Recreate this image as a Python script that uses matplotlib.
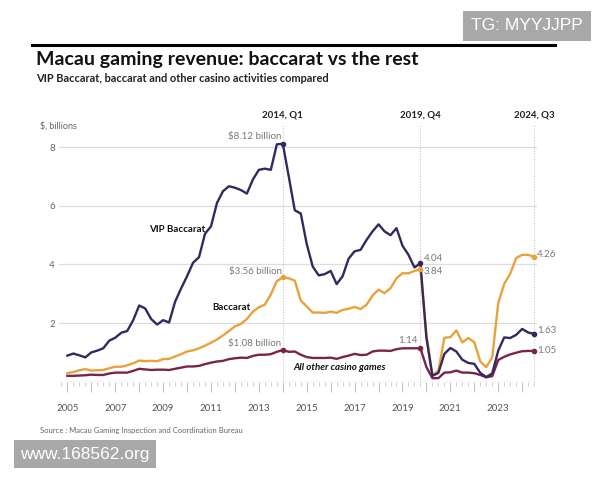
import numpy as np
import matplotlib
matplotlib.use('Agg')
import matplotlib.pyplot as plt
from matplotlib.lines import Line2D
from matplotlib.ticker import MultipleLocator, FixedLocator

plt.rcParams['font.family'] = ['Lato', 'DejaVu Sans']

# quarterly values, 2005 Q1 .. 2024 Q3, $ billions
vip = [0.89, 0.96, 0.90, 0.83, 1.00, 1.06, 1.14, 1.40, 1.50, 1.67,
       1.73, 2.10, 2.60, 2.50, 2.14, 1.95, 2.10, 2.02, 2.73, 3.18,
       3.60, 4.06, 4.25, 5.05, 5.30, 6.10, 6.50, 6.67, 6.62, 6.54,
       6.42, 6.90, 7.23, 7.27, 7.23, 8.10, 8.12, 7.00, 5.85, 5.74,
       4.70, 3.93, 3.63, 3.67, 3.78, 3.33, 3.60, 4.20, 4.45, 4.50,
       4.84, 5.13, 5.37, 5.13, 5.00, 5.24, 4.64, 4.33, 3.90, 4.04,
       1.50, 0.20, 0.30, 0.95, 1.15, 1.03, 0.75, 0.64, 0.61, 0.30,
       0.16, 0.28, 1.06, 1.51, 1.49, 1.60, 1.80, 1.68, 1.63]
baccarat = [0.29, 0.33, 0.39, 0.43, 0.38, 0.39, 0.40, 0.46, 0.51, 0.51,
            0.56, 0.63, 0.72, 0.70, 0.71, 0.70, 0.77, 0.78, 0.86, 0.94,
            1.03, 1.07, 1.14, 1.23, 1.33, 1.44, 1.58, 1.73, 1.89, 1.97,
            2.14, 2.39, 2.54, 2.63, 2.98, 3.43, 3.56, 3.53, 3.45, 2.77,
            2.57, 2.36, 2.36, 2.35, 2.39, 2.35, 2.45, 2.49, 2.55, 2.48,
            2.63, 2.94, 3.14, 3.02, 3.19, 3.53, 3.70, 3.70, 3.78, 3.84,
            1.60, 0.22, 0.38, 1.50, 1.52, 1.75, 1.34, 1.49, 1.35, 0.69,
            0.50, 0.83, 2.68, 3.34, 3.68, 4.22, 4.33, 4.33, 4.26]
others = [0.20, 0.20, 0.21, 0.22, 0.24, 0.23, 0.23, 0.28, 0.31, 0.31,
          0.31, 0.37, 0.44, 0.42, 0.40, 0.41, 0.41, 0.40, 0.44, 0.48,
          0.52, 0.52, 0.54, 0.60, 0.65, 0.69, 0.71, 0.77, 0.80, 0.82,
          0.81, 0.88, 0.92, 0.92, 0.94, 1.02, 1.08, 1.02, 1.03, 0.92,
          0.84, 0.81, 0.81, 0.81, 0.82, 0.78, 0.84, 0.89, 0.95, 0.91,
          0.92, 1.03, 1.06, 1.06, 1.05, 1.11, 1.14, 1.14, 1.14, 1.14,
          0.50, 0.12, 0.12, 0.31, 0.32, 0.38, 0.31, 0.31, 0.29, 0.23,
          0.15, 0.19, 0.74, 0.85, 0.93, 0.99, 1.04, 1.05, 1.05]
t = 2005 + np.arange(len(vip)) / 4
marks = [36, 59, 78]
mark_labels = ['2014, Q1', '2019, Q4', '2024, Q3']

c_vip = '#35285f'
c_bac = '#e9a23b'
c_oth = '#7b2449'
grey = '#777777'

fig = plt.figure(figsize=(6, 4.8), dpi=100)
ax = fig.add_axes([59/600, 1-381.7/480, 478/600, 256.7/480])
ax.set_xlim(2004.65, 2024.62)
ax.set_ylim(0, 8.76)

for s in ax.spines.values():
    s.set_visible(False)
for yv in [2, 4, 6, 8]:
    ax.axhline(yv, color='#dcdcdc', lw=0.9, zorder=0)
ax.axhline(0, color='#c8c8c8', lw=0.9, zorder=0)
for i in marks:
    ax.axvline(t[i], color='#c8c8c8', lw=0.8, ls=(0, (1, 1.5)), zorder=0)

ax.plot(t, others, color=c_oth, lw=1.7, zorder=3)
ax.plot(t, baccarat, color=c_bac, lw=1.7, zorder=3)
ax.plot(t, vip, color=c_vip, lw=1.7, zorder=4)
for ser, c in [(vip, c_vip), (baccarat, c_bac), (others, c_oth)]:
    ax.plot(t[marks], np.array(ser)[marks], 'o', color=c, ms=3, zorder=5)

ax.yaxis.set_major_locator(FixedLocator([2, 4, 6, 8]))
ax.tick_params(axis='y', length=0, labelsize=7, labelcolor='#666666', pad=3)
ax.xaxis.set_minor_locator(MultipleLocator(0.25))
ax.set_xticks(range(2005, 2025))
ax.set_xticklabels([str(y) if y % 2 == 1 else '' for y in range(2005, 2025)])
ax.tick_params(axis='x', which='major', length=7, color='#c0c0c0', width=0.7,
               labelsize=7, labelcolor='#555555', pad=9)
ax.tick_params(axis='x', which='minor', length=3, color='#c8c8c8', width=0.6)

for i, lab in zip(marks, mark_labels):
    ax.text(t[i], 8.95, lab, ha='center', va='bottom', fontsize=7,
            fontweight='bold', color='#222222', clip_on=False)

ax.text(2013.95, 8.2, '$8.12 billion', ha='right', va='bottom', fontsize=7, color=grey)
ax.text(2013.95, 3.62, '$3.56 billion', ha='right', va='bottom', fontsize=7, color=grey)
ax.text(2013.95, 1.15, '$1.08 billion', ha='right', va='bottom', fontsize=7, color=grey)
ax.text(2019.65, 1.24, '1.14', ha='right', va='bottom', fontsize=7, color=grey)
ax.text(2019.9, 4.19, '4.04', ha='left', va='center', fontsize=7, color=grey)
ax.text(2019.9, 3.75, '3.84', ha='left', va='center', fontsize=7, color=grey)
ax.text(2024.62, 4.35, '4.26', ha='left', va='center', fontsize=7, color=grey)
ax.text(2024.62, 1.75, '1.63', ha='left', va='center', fontsize=7, color=grey)
ax.text(2024.62, 1.07, '1.05', ha='left', va='center', fontsize=7, color=grey)

ax.text(2008.4, 5.2, 'VIP Baccarat', fontsize=7, fontweight='bold', color='#111111', va='center')
ax.text(2011.05, 2.54, 'Baccarat', fontsize=7, fontweight='bold', color='#111111', va='center')
ax.text(2014.45, 0.5, 'All other casino games', fontsize=7, fontweight='bold',
        fontstyle='italic', color='#111111', va='center')

fig.text(40/600, 1-126/480, '$, billions', fontsize=6.5, color='#666666', va='center')

fig.add_artist(Line2D([32/600, 555/600], [1-45/480, 1-45/480], color='black', lw=2.2))
fig.text(36/600, 1-60/480, 'Macau gaming revenue: baccarat vs the rest', fontsize=14,
         fontweight='bold', color='#111111', va='center')
fig.text(36/600, 1-78/480, 'VIP Baccarat, baccarat and other casino activities compared',
         fontsize=7.9, fontweight='bold', color='#222222', va='center')
fig.text(40/600, 1-430/480, 'Source : Macau Gaming Inspection and Coordination Bureau',
         fontsize=5.5, color='#666666', va='center')

fig.text(527/600, 1-26/480, 'TG: MYYJJPP', fontsize=12.5, color='white', ha='center', va='center',
         family='Liberation Sans',
         bbox=dict(boxstyle='square,pad=0.45', fc='#a8a8a8', ec='none'))
fig.text(85/600, 1-454/480, 'www.168562.org', fontsize=12.5, color='white', ha='center', va='center',
         family='Liberation Sans',
         bbox=dict(boxstyle='square,pad=0.35', fc='#a8a8a8', ec='none'))

fig.savefig('out.png', dpi=100, facecolor='white')
